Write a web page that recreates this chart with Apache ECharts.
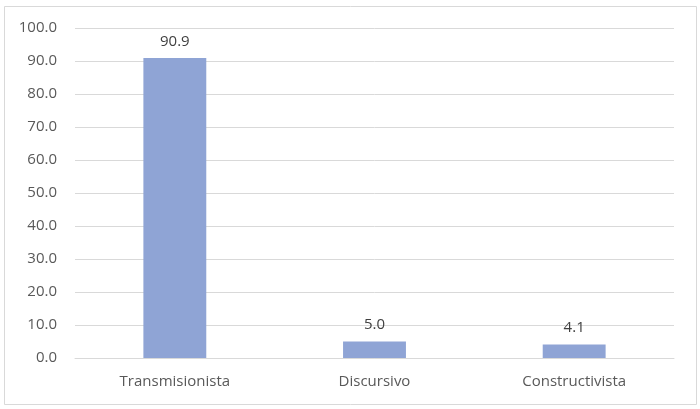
<!DOCTYPE html>
<html>
<head>
<meta charset="utf-8">
<script src="https://cdn.jsdelivr.net/npm/echarts@6/dist/echarts.min.js"></script>
<style>
  html, body { margin: 0; padding: 0; background: #fff; }
  #main { width: 700px; height: 409px; }
</style>
</head>
<body>
<div id="main"></div>
<script>
// datos del gráfico
var categorias = ['Transmisionista', 'Discursivo', 'Constructivista'];
var valores = [90.9, 5.0, 4.1];

var myChart = echarts.init(document.getElementById('main'));
var fuente = '"Open Sans", "Noto Sans", sans-serif';

var option = {
  backgroundColor: '#ffffff',
  animation: false,
  graphic: [{
    type: 'rect',
    shape: { x: 4.5, y: 6.5, width: 692, height: 398 },
    style: { fill: 'none', stroke: '#d9d9d9', lineWidth: 1 }
  }],
  grid: { left: 75, right: 26, top: 28, bottom: 51 },
  xAxis: {
    type: 'category',
    data: categorias,
    axisTick: { show: false },
    axisLine: { lineStyle: { color: '#d9d9d9', width: 1 } },
    axisLabel: { color: '#595959', fontSize: 15, fontFamily: fuente, margin: 16 }
  },
  yAxis: {
    type: 'value',
    min: 0,
    max: 100,
    interval: 10,
    axisLine: { show: false },
    axisTick: { show: false },
    splitLine: { lineStyle: { color: '#d9d9d9', width: 1 } },
    axisLabel: {
      color: '#595959', fontSize: 15, fontFamily: fuente, margin: 18,
      formatter: function (v) { return v.toFixed(1); }
    }
  },
  series: [{
    type: 'bar',
    data: valores,
    barWidth: '31.5%',
    itemStyle: { color: '#8fa4d5' },
    label: {
      show: true,
      position: 'top',
      distance: 9,
      color: '#404040',
      fontSize: 15,
      fontFamily: fuente,
      formatter: function (p) { return p.value.toFixed(1); }
    }
  }]
};
myChart.setOption(option);
</script>
</body>
</html>
